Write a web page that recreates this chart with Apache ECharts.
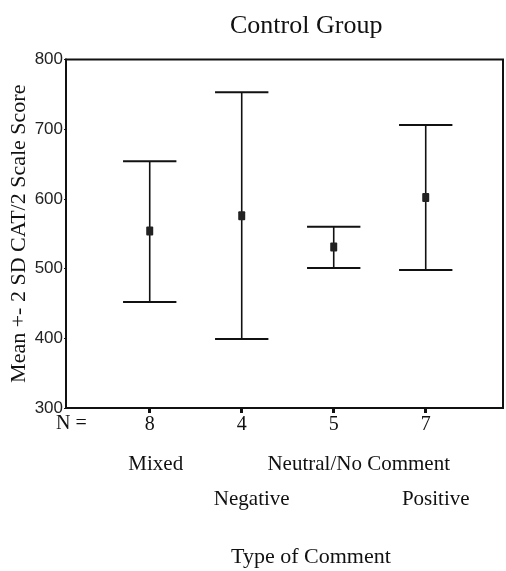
<!DOCTYPE html>
<html>
<head>
<meta charset="utf-8">
<script src="https://cdn.jsdelivr.net/npm/echarts@6/dist/echarts.min.js"></script>
<style>
html,body{margin:0;padding:0;background:#fff;}
#chart{width:506px;height:571px;}
</style>
</head>
<body>
<div id="chart"></div>
<script>
// ---- data ----
const categories = ['Mixed', 'Negative', 'Neutral/No Comment', 'Positive'];
const nValues = [8, 4, 5, 7];
const means = [554, 576, 531, 602];
const upper = [654, 753, 560, 706];
const lower = [452, 399, 501, 498];
const yTicks = [300, 400, 500, 600, 700, 800];

// ---- style helpers (not data) ----
const serif = '"Liberation Serif", "DejaVu Serif", serif';
const labelShift = [6, 10, 25, 10];   // horizontal nudge of category names
const positions = categories.map((c, i) => i + 1);
const X_MIN = 0.09, X_MAX = 4.84;

function catRich() {
  const r = {};
  categories.forEach((c, i) => {
    r['c' + i] = { fontFamily: serif, fontSize: 21, color: '#111', padding: [0, 0, 0, labelShift[i] * 2] };
  });
  return r;
}
function catFormatter(v) {
  const i = Math.round(v) - 1;
  if (i < 0 || i >= categories.length) return '';
  return '{c' + i + '|' + categories[i] + '}';
}
// category names are staggered on two rows: even indices on row 1, odd on row 2
const row1 = positions.filter((p, i) => i % 2 === 0);
const row2 = positions.filter((p, i) => i % 2 === 1);

const hiddenAxisBase = {
  type: 'value', min: X_MIN, max: X_MAX, gridIndex: 0, position: 'bottom',
  axisLine: { show: false }, axisTick: { show: false }, splitLine: { show: false }
};

const barData = categories.map((c, i) => [positions[i], lower[i], upper[i], means[i]]);

const chart = echarts.init(document.getElementById('chart'));
chart.setOption({
  animation: false,
  backgroundColor: '#fff',
  title: {
    text: 'Control Group',
    left: 225, top: 8,
    textStyle: { fontFamily: serif, fontSize: 26, fontWeight: 'normal', color: '#111' }
  },
  grid: {
    left: 66, right: 3, top: 59.5, bottom: 163,
    containLabel: false, outerBoundsMode: 'none',
    show: true, borderColor: '#111', borderWidth: 2
  },
  xAxis: [{
    type: 'value', min: X_MIN, max: X_MAX,
    axisLine: { show: true, lineStyle: { color: '#111', width: 2 } },
    splitLine: { show: false },
    axisTick: { show: true, customValues: positions, length: 5, lineStyle: { color: '#111', width: 3 } },
    axisLabel: {
      customValues: positions, margin: 7,
      fontFamily: serif, fontSize: 20, color: '#111',
      formatter: function (v) {
        const i = Math.round(v) - 1;
        return (i < 0 || i >= nValues.length) ? '' : String(nValues[i]);
      }
    }
  }, Object.assign({}, hiddenAxisBase, {
    axisLabel: { customValues: row1, margin: 46, formatter: catFormatter, rich: catRich() }
  }), Object.assign({}, hiddenAxisBase, {
    axisLabel: { customValues: row2, margin: 81, formatter: catFormatter, rich: catRich() }
  })],
  yAxis: {
    type: 'value', min: yTicks[0], max: yTicks[yTicks.length - 1], interval: 100,
    name: 'Mean +- 2 SD CAT/2 Scale Score',
    nameLocation: 'middle', nameGap: 36, nameMoveOverlap: false,
    nameTextStyle: { fontFamily: serif, fontSize: 22, color: '#111' },
    axisLine: { show: true, lineStyle: { color: '#111', width: 2 } },
    splitLine: { show: false },
    axisTick: { show: true, length: 2, lineStyle: { color: '#111', width: 1 } },
    axisLabel: { margin: 3, fontFamily: '"Liberation Sans", Arial, sans-serif', fontSize: 17, color: '#222' }
  },
  graphic: [
    { type: 'text', left: 56, top: 414, style: { text: 'N =', font: '20px ' + serif, fill: '#111' } },
    { type: 'text', left: 231, top: 546, style: { text: 'Type of Comment', font: '22px ' + serif, fill: '#111' } }
  ],
  series: [{
    type: 'custom',
    xAxisIndex: 0,
    data: barData,
    encode: { x: 0, y: [1, 2, 3] },
    renderItem: function (params, api) {
      const x = api.value(0);
      const lo = api.coord([x, api.value(1)]);
      const hi = api.coord([x, api.value(2)]);
      const mid = api.coord([x, api.value(3)]);
      const half = api.size([0.29, 0])[0];
      const ls = { stroke: '#111', lineWidth: 1.6 };
      return {
        type: 'group',
        children: [
          { type: 'line', shape: { x1: lo[0], y1: lo[1], x2: hi[0], y2: hi[1] }, style: ls },
          { type: 'line', shape: { x1: hi[0] - half, y1: hi[1], x2: hi[0] + half, y2: hi[1] }, style: { stroke: '#111', lineWidth: 2 } },
          { type: 'line', shape: { x1: lo[0] - half, y1: lo[1], x2: lo[0] + half, y2: lo[1] }, style: { stroke: '#111', lineWidth: 2 } },
          { type: 'rect', shape: { x: mid[0] - 3.5, y: mid[1] - 4.5, width: 7, height: 9, r: 1 }, style: { fill: '#222' } }
        ]
      };
    }
  }]
});
</script>
</body>
</html>
